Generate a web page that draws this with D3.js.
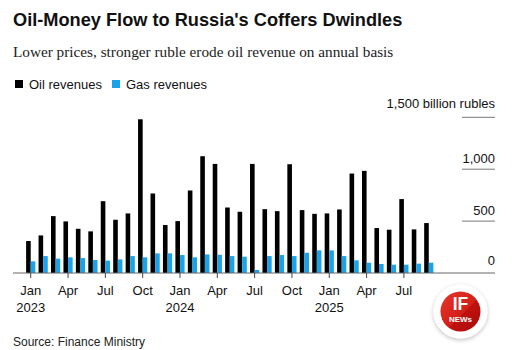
<!DOCTYPE html>
<html>
<head>
<meta charset="utf-8">
<script src="https://cdn.jsdelivr.net/npm/d3@7"></script>
<style>
  body { margin: 0; background: #fff; }
  svg { display: block; font-family: "Liberation Sans", Arial, sans-serif; }
</style>
</head>
<body>
<svg id="chart" width="512" height="350"></svg>
<script>
// Monthly values, Jan 2023 – Sep 2025, billion rubles
const months = d3.range(33).map(i => new Date(2023, i, 1));
const oilRevenue = [308, 362, 548, 497, 426, 401, 692, 513, 574, 1481, 766, 462,
                    500, 795, 1125, 1051, 631, 590, 1051, 615, 596, 1048, 606, 570,
                    574, 612, 958, 984, 433, 417, 712, 420, 481];
const gasRevenue = [112, 163, 138, 151, 144, 125, 119, 131, 163, 151, 189, 189,
                    173, 151, 179, 176, 163, 157, 29, 163, 173, 163, 195, 218,
                    218, 163, 122, 99, 87, 80, 80, 90, 99];
const yTicks = [0, 500, 1000, 1500];

const svg = d3.select("#chart");
const monthFmt = d3.timeFormat("%b");

// title block
svg.append("text")
  .attr("x", 13).attr("y", 26)
  .attr("font-size", 18.2).attr("font-weight", "bold")
  .attr("fill", "#111")
  .text("Oil-Money Flow to Russia's Coffers Dwindles");

svg.append("text")
  .attr("x", 13).attr("y", 57)
  .attr("font-family", "'Liberation Serif', 'Times New Roman', serif")
  .attr("font-size", 15.25)
  .attr("fill", "#222")
  .text("Lower prices, stronger ruble erode oil revenue on annual basis");

// legend
const legendItems = [
  { label: "Oil revenues", color: "#000000", x: 15 },
  { label: "Gas revenues", color: "#1aa3e8", x: 112 }
];
legendItems.forEach(d => {
  svg.append("rect")
    .attr("x", d.x).attr("y", 80)
    .attr("width", 8).attr("height", 8)
    .attr("fill", d.color);
  svg.append("text")
    .attr("x", d.x + 14).attr("y", 89)
    .attr("font-size", 13).attr("fill", "#111")
    .text(d.label);
});

// scales
const x = d3.scaleBand()
  .domain(months)
  .range([24.5, 435]);

const y = d3.scaleLinear()
  .domain([0, 1500])
  .range([273, 117.3]);

const barW = 4.6;

// y gridlines + labels on the right
const yAxis = svg.append("g");
yTicks.slice(1).forEach(v => {
  yAxis.append("line")
    .attr("x1", 462).attr("x2", 495)
    .attr("y1", y(v)).attr("y2", y(v))
    .attr("stroke", "#777").attr("stroke-width", 1);
});
yTicks.forEach(v => {
  yAxis.append("text")
    .attr("x", 495)
    .attr("y", y(v) - (v === 1500 ? 9 : v === 0 ? 8.5 : 6.5))
    .attr("text-anchor", "end")
    .attr("font-size", 13).attr("fill", "#111")
    .text(v === 1500 ? "1,500 billion rubles" : d3.format(",")(v));
});

// bars
const g = svg.append("g");
g.selectAll("rect.oil")
  .data(oilRevenue)
  .join("rect")
  .attr("class", "oil")
  .attr("x", (d, i) => x(months[i]) + x.bandwidth() / 2 - barW)
  .attr("y", d => y(d))
  .attr("width", barW)
  .attr("height", d => y(0) - y(d))
  .attr("fill", "#000");

g.selectAll("rect.gas")
  .data(gasRevenue)
  .join("rect")
  .attr("class", "gas")
  .attr("x", (d, i) => x(months[i]) + x.bandwidth() / 2)
  .attr("y", d => y(d))
  .attr("width", barW)
  .attr("height", d => y(0) - y(d))
  .attr("fill", "#1aa3e8");

// baseline
svg.append("line")
  .attr("x1", 13).attr("x2", 495)
  .attr("y1", y(0)).attr("y2", y(0))
  .attr("stroke", "#666").attr("stroke-width", 1);

// x ticks every quarter
const quarterMonths = months.filter(d => d.getMonth() % 3 === 0);
const xAxis = svg.append("g");
quarterMonths.forEach(d => {
  const cx = x(d) + x.bandwidth() / 2;
  xAxis.append("line")
    .attr("x1", cx).attr("x2", cx)
    .attr("y1", y(0)).attr("y2", y(0) + 5)
    .attr("stroke", "#444");
  xAxis.append("text")
    .attr("x", cx).attr("y", 295)
    .attr("text-anchor", "middle")
    .attr("font-size", 13).attr("fill", "#111")
    .text(monthFmt(d));
  if (d.getMonth() === 0) {
    xAxis.append("text")
      .attr("x", cx).attr("y", 311.5)
      .attr("text-anchor", "middle")
      .attr("font-size", 13).attr("fill", "#111")
      .text(d.getFullYear());
  }
});

// source
svg.append("text")
  .attr("x", 13).attr("y", 346)
  .attr("font-size", 12).attr("fill", "#222")
  .text("Source: Finance Ministry");

// watermark logo
const defs = svg.append("defs");
const grad = defs.append("linearGradient")
  .attr("id", "logoGrad").attr("x1", "0").attr("y1", "0").attr("x2", "1").attr("y2", "1");
grad.append("stop").attr("offset", "0%").attr("stop-color", "#e8352c");
grad.append("stop").attr("offset", "55%").attr("stop-color", "#d22018");
grad.append("stop").attr("offset", "56%").attr("stop-color", "#c0120f");
grad.append("stop").attr("offset", "100%").attr("stop-color", "#a80b0b");
const shadow = defs.append("filter").attr("id", "logoShadow")
  .attr("x", "-30%").attr("y", "-30%").attr("width", "160%").attr("height", "160%");
shadow.append("feDropShadow")
  .attr("dx", 0).attr("dy", 1.5).attr("stdDeviation", 2)
  .attr("flood-color", "#000").attr("flood-opacity", 0.25);

const logo = svg.append("g").attr("transform", "translate(460.5,311.5)");
logo.append("circle").attr("r", 27).attr("fill", "#fff").attr("filter", "url(#logoShadow)");
logo.append("circle").attr("r", 20).attr("fill", "url(#logoGrad)");
logo.append("text")
  .attr("y", -2).attr("text-anchor", "middle")
  .attr("font-size", 17.5).attr("font-weight", "bold").attr("fill", "#fff")
  .text("IF");
logo.append("text")
  .attr("y", 10).attr("text-anchor", "middle")
  .attr("font-size", 8).attr("font-weight", "bold").attr("fill", "#fff")
  .text("NEWs");
</script>
</body>
</html>
